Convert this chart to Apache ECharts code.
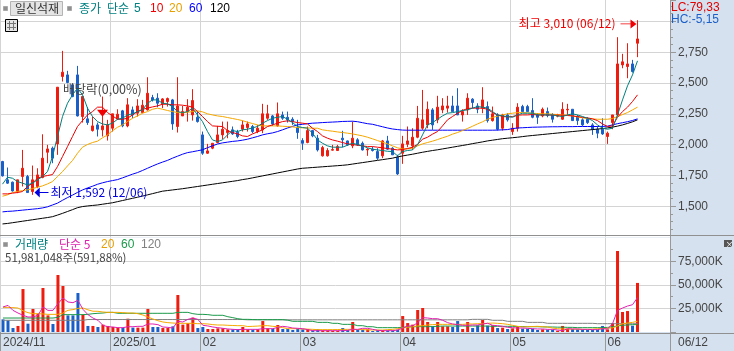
<!DOCTYPE html>
<html><head><meta charset="utf-8">
<style>html,body{margin:0;padding:0;background:#d6e1ef}#c{width:734px;height:351px}</style>
<script src="https://cdn.jsdelivr.net/npm/echarts@6/dist/echarts.min.js"></script>
</head><body><div id="c"></div>
<script>
const tradingDays = ['2024/11/28','2024/11/29',
'2024/12/02','2024/12/03','2024/12/04','2024/12/05','2024/12/06','2024/12/09','2024/12/10','2024/12/11','2024/12/12','2024/12/13','2024/12/16','2024/12/17','2024/12/18','2024/12/19','2024/12/20','2024/12/23','2024/12/24','2024/12/26','2024/12/27','2024/12/30',
'2025/01/02','2025/01/03','2025/01/06','2025/01/07','2025/01/08','2025/01/09','2025/01/10','2025/01/13','2025/01/14','2025/01/15','2025/01/16','2025/01/17','2025/01/20','2025/01/21','2025/01/22','2025/01/23','2025/01/24','2025/01/31',
'2025/02/03','2025/02/04','2025/02/05','2025/02/06','2025/02/07','2025/02/10','2025/02/11','2025/02/12','2025/02/13','2025/02/14','2025/02/17','2025/02/18','2025/02/19','2025/02/20','2025/02/21','2025/02/24','2025/02/25','2025/02/26','2025/02/27','2025/02/28',
'2025/03/04','2025/03/05','2025/03/06','2025/03/07','2025/03/10','2025/03/11','2025/03/12','2025/03/13','2025/03/14','2025/03/17','2025/03/18','2025/03/19','2025/03/20','2025/03/21','2025/03/24','2025/03/25','2025/03/26','2025/03/27','2025/03/28','2025/03/31',
'2025/04/01','2025/04/02','2025/04/03','2025/04/04','2025/04/07','2025/04/08','2025/04/09','2025/04/10','2025/04/11','2025/04/14','2025/04/15','2025/04/16','2025/04/17','2025/04/18','2025/04/21','2025/04/22','2025/04/23','2025/04/24','2025/04/25','2025/04/28','2025/04/29','2025/04/30',
'2025/05/02','2025/05/07','2025/05/08','2025/05/09','2025/05/12','2025/05/13','2025/05/14','2025/05/15','2025/05/16','2025/05/19','2025/05/20','2025/05/21','2025/05/22','2025/05/23','2025/05/26','2025/05/27','2025/05/28','2025/05/29','2025/05/30',
'2025/06/02','2025/06/04','2025/06/05','2025/06/09','2025/06/10','2025/06/11','2025/06/12'];
const futureSlots = ['','','','','',''];
const monthStartDays = ['2024/11/28','2025/01/02','2025/02/03','2025/03/04','2025/04/01','2025/05/02','2025/06/02'];
const monthLabels = ['2024/11','2025/01','02','03','04','05','06'];

const opens = [1863,1714,1695,1619,1741,1741,1619,1660,1733,1938,
1971,2006,2553,2566,2485,2566,2228,2209,2114,2160,
2120,2071,2133,2209,2274,2152,2282,2255,2260,2282,
2382,2377,2331,2350,2363,2147,2233,2268,2241,2222,
2079,1930,1971,2017,2079,2098,2120,2101,2125,2139,
2147,2106,2120,2214,2233,2152,2241,2222,2206,2139,
2033,2017,2114,2052,1909,1909,1955,1952,2052,2030,
1990,2039,2011,1957,1963,1944,1909,2030,1971,1898,
1930,2003,1990,2060,2133,2160,2282,2201,2282,2296,
2314,2314,2241,2282,2369,2314,2296,2309,2195,2241,
2133,2241,2106,2133,2309,2309,2277,2241,2233,2268,
2241,2231,2206,2282,2287,2228,2201,2206,2160,2125,
2125,2066,2179,2241,2647,2634,2655,2823];
const closes = [1746,1687,1624,1714,1808,1611,1714,1754,1890,1965,
1890,2466,2588,2504,2390,2233,2390,2179,2152,2125,
2152,2160,2250,2247,2152,2323,2241,2314,2320,2417,
2363,2336,2371,2374,2168,2314,2268,2304,2358,2187,
1930,1949,2011,2079,2125,2114,2087,2066,2160,2168,
2106,2133,2250,2250,2168,2250,2214,2201,2187,2098,
2011,2114,2071,1957,1976,1952,1960,1984,2039,1998,
2052,1998,1957,1963,1952,1890,2030,1963,1917,1762,
2006,2030,2060,2214,2201,2287,2160,2304,2314,2314,
2268,2241,2268,2377,2342,2287,2363,2195,2250,2125,
2241,2201,2133,2304,2268,2268,2222,2222,2287,2236,
2206,2241,2287,2287,2195,2195,2160,2179,2125,2093,
2087,2093,2241,2655,2672,2655,2593,2858];
const lows = [1741,1681,1619,1606,1660,1611,1592,1646,1727,1849,
1849,1917,2512,2498,2385,2228,2179,2160,2106,2066,
2066,2033,2106,2201,2141,2141,2214,2228,2255,2277,
2350,2304,2296,2309,2120,2098,2233,2187,2195,2179,
1917,1925,1963,2011,2044,2052,2079,2052,2106,2106,
2093,2093,2093,2201,2152,2147,2201,2179,2160,2047,
1957,2011,2060,1944,1903,1903,1952,1952,1979,1990,
1971,1990,1952,1909,1944,1876,1890,1957,1917,1754,
1844,1979,1957,2052,2120,2133,2120,2174,2255,2260,
2268,2241,2187,2241,2296,2255,2255,2179,2187,2114,
2114,2187,2079,2106,2268,2268,2214,2168,2222,2222,
2179,2222,2201,2241,2195,2160,2152,2168,2079,2052,
2079,2006,2125,2228,2620,2539,2585,2710];
const highs = [1868,1814,1700,1714,1957,1754,1830,1808,2084,1998,
1984,2466,2761,2599,2498,2639,2390,2304,2228,2179,
2390,2201,2250,2287,2282,2377,2309,2369,2363,2547,
2404,2417,2377,2382,2371,2547,2314,2369,2450,2268,
2106,2006,2011,2152,2187,2187,2147,2120,2195,2187,
2160,2160,2331,2323,2241,2342,2268,2268,2222,2201,
2052,2147,2120,2079,1990,1971,1998,1998,2112,2033,
2187,2052,2025,1971,1984,1971,2038,2071,1979,1917,
2071,2147,2133,2314,2444,2350,2296,2396,2377,2396,
2396,2458,2287,2417,2377,2336,2466,2350,2309,2255,
2250,2255,2174,2336,2323,2323,2377,2255,2301,2301,
2255,2250,2344,2331,2287,2241,2214,2222,2174,2147,
2214,2106,2241,2872,2737,2823,2688,3010];

const ma5 = [1679,1735,1727,1700,1687,1673,1687,1714,1741,1781,
1903,2066,2228,2336,2404,2458,2404,2296,2228,2187,
2168,2160,2174,2206,2214,2241,2250,2268,2282,2336,
2363,2363,2336,2331,2309,2268,2260,2268,2296,2241,
2187,2106,2038,2025,2038,2079,2114,2106,2120,2125,
2136,2147,2174,2195,2214,2222,2228,2206,2179,2147,
2139,2133,2093,2038,2011,1990,1979,1979,1979,1995,
2011,2001,1990,1974,1963,1957,1952,1946,1944,1909,
1944,1952,1957,1998,2079,2160,2179,2206,2233,2255,
2260,2268,2277,2282,2296,2309,2304,2296,2268,2241,
2233,2228,2222,2241,2255,2255,2255,2241,2241,2241,
2241,2233,2228,2241,2250,2241,2228,2214,2195,2160,
2133,2125,2133,2241,2363,2477,2566,2680];
const ma10 = [1600,1600,1606,1611,1619,1660,1687,1727,1741,1749,
1757,1822,1903,1984,2066,2147,2195,2241,2268,2304,
2304,2260,2233,2206,2206,2214,2241,2268,2287,2296,
2306,2314,2328,2328,2323,2323,2320,2314,2304,2268,
2228,2187,2152,2149,2147,2114,2098,2087,2071,2066,
2087,2103,2120,2147,2160,2174,2187,2193,2187,2179,
2174,2168,2133,2106,2071,2052,2038,2028,2017,2006,
2001,1995,1990,1984,1984,1979,1974,1968,1963,1957,
1960,1968,1979,2001,2044,2060,2085,2106,2152,2201,
2228,2255,2277,2293,2296,2296,2296,2287,2260,2241,
2228,2225,2228,2239,2241,2241,2244,2241,2241,2241,
2239,2239,2239,2236,2233,2228,2222,2217,2209,2195,
2168,2147,2152,2222,2268,2304,2350,2404];
const ma20 = [1581,1592,1611,1619,1627,1633,1643,1654,1665,1681,
1700,1741,1781,1827,1871,1930,1979,2001,2017,2028,
2055,2079,2112,2141,2160,2187,2214,2233,2255,2268,
2287,2296,2287,2277,2268,2260,2258,2263,2268,2274,
2266,2250,2241,2233,2228,2220,2212,2204,2195,2182,
2171,2160,2152,2152,2152,2152,2149,2147,2144,2139,
2136,2136,2133,2133,2120,2114,2109,2103,2098,2093,
2087,2079,2071,2060,2047,2033,2020,2006,1990,1974,
1965,1965,1971,1990,2006,2017,2028,2041,2055,2068,
2085,2098,2114,2131,2149,2168,2185,2206,2220,2231,
2241,2250,2255,2260,2260,2258,2255,2252,2250,2250,
2247,2244,2241,2239,2233,2225,2217,2212,2209,2206,
2206,2206,2212,2228,2244,2260,2282,2304];
const ma60 = [1454,1458,1460,1464,1468,1472,1476,1480,1486,1495,
1510,1525,1548,1570,1590,1612,1632,1648,1662,1678,
1690,1700,1708,1716,1730,1745,1760,1773,1790,1808,
1826,1843,1858,1872,1890,1906,1922,1935,1942,1950,
1958,1975,1990,2005,2014,2020,2026,2030,2036,2044,
2055,2066,2079,2088,2095,2106,2120,2135,2148,2160,
2165,2170,2174,2176,2179,2181,2183,2185,2188,2189,
2190,2186,2178,2170,2165,2155,2145,2135,2127,2122,
2118,2117,2117,2117,2117,2117,2117,2117,2117,2117,
2117,2117,2117,2117,2117,2117,2117,2117,2117,2118,
2120,2122,2130,2135,2137,2139,2141,2142,2143,2144,
2145,2145,2146,2146,2146,2147,2147,2147,2147,2147,
2148,2150,2160,2170,2178,2186,2196,2209];
const ma120 = [1356,1360,1366,1372,1378,1384,1390,1396,1402,1408,
1415,1428,1442,1457,1472,1488,1497,1502,1506,1510,
1516,1522,1528,1537,1546,1555,1564,1573,1582,1592,
1602,1612,1622,1627,1632,1637,1642,1648,1654,1660,
1666,1672,1678,1684,1690,1696,1702,1708,1716,1722,
1730,1738,1746,1754,1762,1770,1778,1786,1794,1802,
1808,1811,1814,1817,1820,1823,1826,1829,1832,1836,
1842,1848,1854,1860,1866,1872,1878,1884,1890,1900,
1908,1915,1922,1930,1938,1945,1952,1958,1965,1972,
1979,1986,1993,2000,2008,2015,2022,2030,2036,2042,
2048,2052,2056,2060,2065,2070,2074,2078,2082,2086,
2090,2094,2098,2102,2106,2110,2114,2118,2122,2126,
2130,2136,2142,2150,2160,2172,2185,2201];

/* volume, thousands of shares */
const volume = [13400,12400,4200,6400,45500,8800,24400,19400,46600,17600,
8500,60400,48700,17600,17600,41300,18400,6400,6400,5300,
7800,6400,5300,4600,4600,14100,4600,4600,4600,24400,
5300,5300,4200,4200,6000,39200,7800,9200,15200,4200,
5300,3200,3200,3900,3900,2800,2800,2800,5300,2800,
2500,2800,11600,3900,3500,7400,3200,3200,2100,3500,
2800,3200,1800,2800,1800,1800,1400,1400,4200,2100,
10600,2100,2500,2800,1100,2100,2100,1800,1800,2500,
16900,9500,7800,23300,25400,10600,6000,10600,6000,6000,
5300,11600,3200,10600,4200,7100,12700,6700,7100,4200,
4600,3200,3900,6000,3500,3500,3500,2100,2800,2500,
2500,1400,6400,3200,3200,2800,2800,2500,2500,2500,
6400,2800,9500,85800,21200,22200,6700,51981];
const volMa5 = [26500,28200,22900,20100,17700,15900,15900,17700,26500,22900,
22900,30000,36000,31800,31100,33500,24000,18400,14800,12400,
7100,5600,5300,4600,4600,5600,5600,6000,6000,8500,
8500,7800,5300,4900,4200,11300,10600,13400,14800,13400,
7100,6400,5300,4600,3900,3200,2800,2500,2800,2800,
2800,2800,3500,3500,3500,4900,6000,5300,4200,3900,
3500,2500,1400,1400,1400,1400,1400,1400,1400,1800,
2800,2800,3900,3900,2800,1800,1400,1400,1400,2100,
4200,6400,6400,9900,15200,14800,14100,14100,12400,9900,
8500,7800,7100,7100,7400,7400,8500,9200,7100,6700,
6000,4900,4600,4200,4200,3900,3500,3200,3200,2800,
2800,2100,1400,3500,3200,3200,2800,2800,2500,2500,
3500,3200,8800,22900,25400,27500,28900,36400];
const volMa20 = [26100,26100,25800,25400,22500,20500,19400,19400,19100,18700,
18700,18700,20000,23000,23700,25000,25400,23500,22000,21900,
21200,20800,20800,20800,20500,20100,20100,19400,18000,15900,
13800,12000,10600,9900,9500,9200,9200,9200,9200,8800,
8800,8500,7800,7400,7400,7100,6900,6700,6700,5800,
6000,6300,6700,6700,6000,5600,4600,3500,3500,3500,
3200,3000,2800,2500,2500,2500,2500,2600,2800,2800,
2800,2600,2500,2300,2100,2100,2100,2500,2800,3500,
4400,5000,5600,6400,6700,7400,7800,8100,8100,8100,
8100,8100,8100,8500,8500,8800,8800,9200,9500,9200,
8800,8100,7100,6000,5300,5600,5800,6000,5600,5300,
4200,3500,3200,3200,3000,3000,2800,2800,3000,3500,
3500,4000,4400,6400,8800,9500,10200,11300];
const volMa60 = [14800,14800,14800,14800,14800,14800,14800,14800,14800,14800,
14800,15500,18400,18400,18400,18400,18400,18700,19400,19800,
20100,20800,20800,19800,19800,19800,19800,19800,19800,19800,
19800,19800,19800,19800,19800,20800,20800,20800,19400,18700,
18700,18400,17700,17700,17700,16200,15200,14100,13400,13400,
13200,13100,13100,13100,13100,13100,13100,12500,11300,11300,
11300,11300,11300,10200,10200,10200,9200,9200,8100,8100,
8100,6700,6700,5600,5600,4600,4600,4600,4600,4600,
4900,5300,5600,5600,5600,5600,5800,6000,6300,6300,
6300,6300,6300,6300,6300,6300,6300,6300,6000,6000,
6000,6000,6000,5800,5800,5600,5600,5600,5400,5300,
5300,5100,5100,4900,4900,4600,4600,4600,4600,4600,
4600,4900,5600,6400,7100,7400,7800,7800];
const volMa120 = [12400,12400,12400,12400,12400,12400,12400,12400,12400,12400,
12400,12400,12400,12400,12400,12400,12400,13200,13200,13200,
13200,13200,13200,13200,13200,13200,13200,13200,13200,13200,
13200,13200,13200,13200,13200,13200,13200,13200,13200,13200,
13200,13200,13200,13200,13200,13200,13200,13200,13200,12900,
12900,12900,12900,12900,12900,12900,12900,12900,12900,12900,
12900,12900,12900,12900,12900,12900,12900,12900,12900,12900,
12900,12900,12900,12900,12900,12900,12900,12900,12900,12900,
12900,12900,12900,12900,12900,12900,12900,12900,12900,12900,
12900,12900,12900,12900,13400,13400,13400,13400,12400,12400,
12400,11300,11300,11300,11300,10200,10200,10200,10200,9200,
9200,9200,9200,9200,9200,9200,9200,9200,9200,8800,
8800,8800,8800,8800,8800,8800,8800,8800];
const priceTicksShown = [1500,1750,2000,2250,2500,2750];
const volumeTicksShown = [25000,50000,75000];

const UP='#ee1c0e', DOWN='#1a5fc8', PANEL='#d6e1ef', GRID='#d4d4d4', AXIS='#999999';
const KR='"Noto Sans CJK KR",sans-serif';
const LAT='"Liberation Sans",sans-serif';
const categories = tradingDays.concat(futureSlots);
const isMonthStart = i => monthStartDays.indexOf(categories[i]) >= 0;

const txt=(x,y,text,fill,size,extra)=>({type:'text',z:100,silent:true,x,y,
  style:Object.assign({text,fill,font:(size||12)+'px '+KR,textVerticalAlign:'middle',textAlign:'left'},extra||{})});
const box=(x,y,w,h,fill,stroke)=>({type:'rect',z:99,silent:true,shape:{x,y,width:w,height:h},style:{fill,stroke:stroke||null,lineWidth:1}});
const hline=(x1,x2,y,c)=>({type:'line',z:99,silent:true,shape:{x1,y1:y,x2,y2:y},style:{stroke:c,lineWidth:1}});
const vline=(x,y1,y2,c)=>({type:'line',z:99,silent:true,shape:{x1:x,y1,x2:x,y2},style:{stroke:c,lineWidth:1}});

const line=(name,data,color,xi)=>({name,type:'line',data,xAxisIndex:xi,yAxisIndex:xi,symbol:'none',
  lineStyle:{color,width:1},itemStyle:{color},silent:true,z:4,animation:false});

const option={
  animation:false,
  backgroundColor:PANEL,
  grid:[
    {left:0,width:670,top:0,height:237,show:true,backgroundColor:'#fff',borderWidth:0},
    {left:0,width:670,top:237.6,height:94.4,show:true,backgroundColor:'#fff',borderWidth:0}
  ],
  xAxis:[
    {type:'category',gridIndex:0,data:categories,boundaryGap:true,
     axisLine:{show:false},axisTick:{show:false},axisLabel:{show:false},
     splitLine:{show:true,interval:isMonthStart,lineStyle:{color:GRID,width:1}}},
    {type:'category',gridIndex:1,data:categories,boundaryGap:true,
     axisLine:{show:false},
     axisTick:{show:true,interval:isMonthStart,length:19,lineStyle:{color:AXIS,width:1}},
     axisLabel:{show:true,interval:isMonthStart,align:'left',margin:5,color:'#444',fontSize:12,fontFamily:LAT,
       formatter:(v)=>monthLabels[monthStartDays.indexOf(v)]},
     splitLine:{show:true,interval:isMonthStart,lineStyle:{color:GRID,width:1}}}
  ],
  yAxis:[
    {type:'value',gridIndex:0,position:'right',min:1250,max:3174,interval:250,
     axisLine:{show:true,onZero:false,lineStyle:{color:AXIS}},
     axisTick:{show:true,length:6,lineStyle:{color:AXIS}},
     minorTick:{show:true,splitNumber:4,length:3,lineStyle:{color:AXIS}},
     axisLabel:{show:true,margin:8,color:'#444',fontSize:12,fontFamily:LAT,showMinLabel:false,showMaxLabel:false,
       formatter:v=>priceTicksShown.includes(v)?v.toLocaleString('en-US'):''},
     splitLine:{show:true,showMinLine:false,showMaxLine:false,lineStyle:{color:GRID,width:1}}},
    {type:'value',gridIndex:1,position:'right',min:0,max:100000,interval:25000,
     axisLine:{show:true,onZero:false,lineStyle:{color:AXIS}},
     axisTick:{show:true,length:6,lineStyle:{color:AXIS}},
     minorTick:{show:true,splitNumber:2,length:3,lineStyle:{color:AXIS}},
     axisLabel:{show:true,margin:8,color:'#444',fontSize:12,fontFamily:LAT,
       formatter:v=>volumeTicksShown.includes(v)?v.toLocaleString('en-US')+'K':''},
     splitLine:{show:true,showMinLine:false,showMaxLine:false,lineStyle:{color:GRID,width:1}}}
  ],
  series:[
    {name:'일봉',type:'candlestick',xAxisIndex:0,yAxisIndex:0,barWidth:3,z:3,silent:true,
     data:opens.map((o,i)=>[o,closes[i],lows[i],highs[i]]),
     itemStyle:{color:UP,color0:DOWN,borderColor:UP,borderColor0:DOWN,borderWidth:1},
     markPoint:{silent:true,animation:false,z:20,data:[
       {coord:[127,2980],symbol:'path://M0,4.5H10V0L16,5L10,10V5.5H0Z',symbolSize:[16,9],symbolOffset:[-9,0],
        itemStyle:{color:'#f00000'},
        label:{show:true,position:'left',distance:5,formatter:'최고 3,010 (06/12)',color:'#f00000',fontSize:12,fontFamily:KR}},
       {coord:[6,1612],symbol:'path://M16,4.5H6V0L0,5L6,10V5.5H16Z',symbolSize:[14,10],symbolOffset:[9,0],
        itemStyle:{color:'#0000e0'},
        label:{show:true,position:'right',distance:2,formatter:'최저 1,592 (12/06)',color:'#0000e0',fontSize:12,fontFamily:KR}},
       {coord:[20,2255],symbol:'triangle',symbolRotate:180,symbolSize:[11,7],itemStyle:{color:'#f00000'},label:{show:false}}
     ]}},
    line('MA120',ma120,'#000000',0),
    line('MA60',ma60,'#0000ff',0),
    line('MA20',ma20,'#f5a800',0),
    line('MA10',ma10,'#f00000',0),
    line('MA5',ma5,'#008080',0),
    {name:'거래량',type:'bar',xAxisIndex:1,yAxisIndex:1,barWidth:3,silent:true,z:3,
     data:volume.map((v,i)=>({value:v,itemStyle:{color:closes[i]>=opens[i]?UP:DOWN}}))},
    line('VMA120',volMa120,'#808080',1),
    line('VMA60',volMa60,'#1a9a4a',1),
    line('VMA20',volMa20,'#f5a800',1),
    line('VMA5',volMa5,'#e020b0',1)
  ],
  graphic:{elements:[
    box(3.5,6.5,4,4,'#909090','#a8a8a8'),
    box(10.5,1.5,52,14,'#e4e4e4','#b4b4b4'),
    txt(15,8.5,'일신석재','#333333',12),
    box(67.5,6.5,4,4,'#909090','#a8a8a8'),
    txt(79,8.5,'종가','#008080',12),
    txt(107,8.5,'단순','#008080',12),
    txt(134,8.5,'5','#008080',12,{font:'12px '+LAT}),
    txt(150,8.5,'10','#f00000',12,{font:'12px '+LAT}),
    txt(169,8.5,'20','#e8a000',12,{font:'12px '+LAT}),
    txt(189,8.5,'60','#0000ff',12,{font:'12px '+LAT}),
    txt(210,8.5,'120','#000000',12,{font:'12px '+LAT}),
    box(5.5,19.5,12,12,'#e4e4e4','#000000'),
    hline(7,16,23.5,'#777'),hline(7,16,27.5,'#777'),vline(9.5,21,30,'#777'),vline(13.5,21,30,'#777'),
    txt(63,89.5,'배당락(0,00%)','#444444',12.5),
    txt(671,7.5,'LC:79,33','#e00000',12,{font:'12px '+LAT}),
    txt(671,19.5,'HC:-5,15','#1a5fc8',12,{font:'12px '+LAT}),
    box(671,236,12,3,PANEL),
    hline(0,734,235.5,'#909090'),
    hline(0,734,333.5,'#909090'),
    box(3.5,242.5,4,4,'#909090','#a8a8a8'),
    txt(15,244.5,'거래량','#008080',12),
    txt(59,244.5,'단순 5','#e020b0',12),
    txt(101,244.5,'20','#e8a000',12,{font:'12px '+LAT}),
    txt(121,244.5,'60','#1a9a4a',12,{font:'12px '+LAT}),
    txt(141,244.5,'120','#808080',12,{font:'12px '+LAT}),
    txt(5,257.5,'51,981,048주(591,88%)','#444444',11.5),
    box(724,240,8,7,'#555555'),
    txt(725.5,243.5,'×','#ffffff',8),
    txt(678,342.5,'06/12','#444444',12,{font:'12px '+LAT})
  ]}
};
const chart=echarts.init(document.getElementById('c'),null,{renderer:'canvas',width:734,height:351});
chart.setOption(option);
</script></body></html>
